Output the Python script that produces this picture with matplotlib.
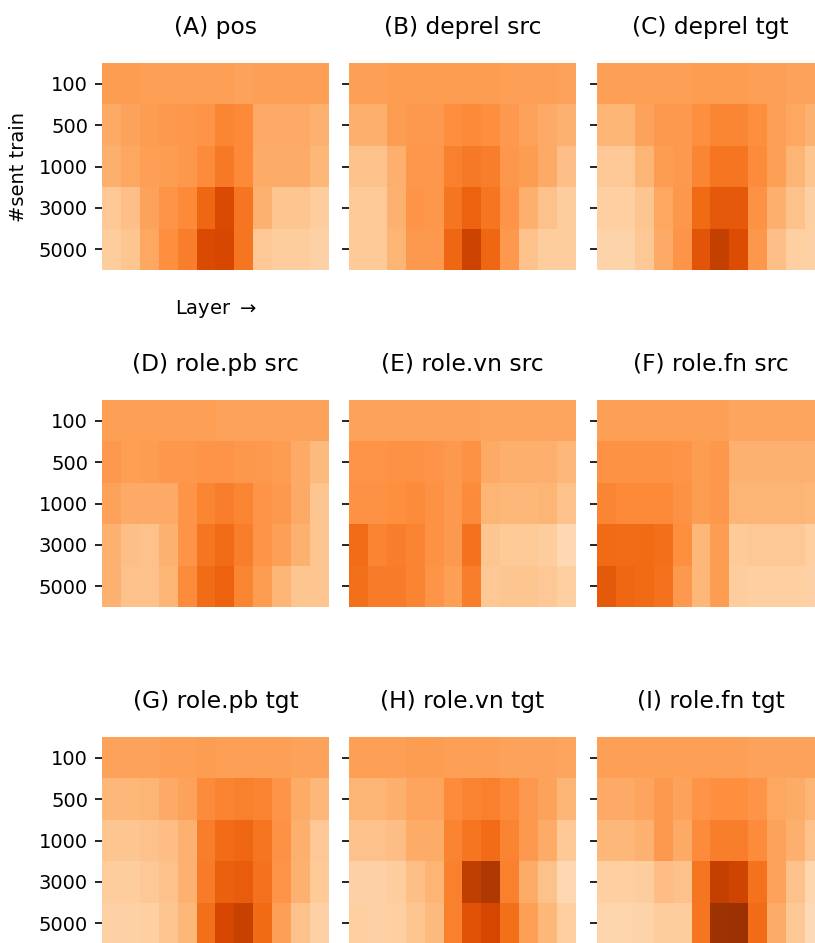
"""Probing accuracy heatmaps: layer vs. number of training sentences."""

import numpy as np
import matplotlib

matplotlib.use("Agg")
import matplotlib.pyplot as plt


TRAIN_SIZES = [100, 500, 1000, 3000, 5000]

# colour values per panel (rows: #sent train, columns: layer 1..12)
POS = [
    [0.44, 0.44, 0.43, 0.43, 0.43, 0.43, 0.43, 0.42, 0.43, 0.43, 0.43, 0.43],
    [0.39, 0.42, 0.44, 0.45, 0.46, 0.47, 0.52, 0.51, 0.39, 0.39, 0.39, 0.36],
    [0.37, 0.40, 0.43, 0.44, 0.46, 0.50, 0.57, 0.51, 0.38, 0.38, 0.38, 0.34],
    [0.28, 0.31, 0.42, 0.47, 0.51, 0.63, 0.74, 0.58, 0.36, 0.29, 0.29, 0.26],
    [0.26, 0.29, 0.40, 0.49, 0.55, 0.74, 0.75, 0.58, 0.28, 0.26, 0.26, 0.24],
]
DEPREL_SRC = [
    [0.43, 0.43, 0.44, 0.44, 0.44, 0.44, 0.44, 0.44, 0.43, 0.43, 0.43, 0.42],
    [0.37, 0.37, 0.44, 0.45, 0.45, 0.49, 0.51, 0.49, 0.45, 0.42, 0.39, 0.36],
    [0.30, 0.30, 0.37, 0.46, 0.46, 0.54, 0.57, 0.55, 0.46, 0.44, 0.39, 0.31],
    [0.27, 0.27, 0.36, 0.47, 0.46, 0.58, 0.65, 0.58, 0.47, 0.37, 0.30, 0.26],
    [0.27, 0.27, 0.35, 0.45, 0.45, 0.63, 0.78, 0.63, 0.45, 0.30, 0.26, 0.26],
]
DEPREL_TGT = [
    [0.43, 0.43, 0.43, 0.43, 0.43, 0.44, 0.44, 0.44, 0.43, 0.43, 0.42, 0.42],
    [0.35, 0.35, 0.42, 0.45, 0.45, 0.49, 0.52, 0.52, 0.49, 0.43, 0.40, 0.36],
    [0.28, 0.28, 0.35, 0.44, 0.45, 0.52, 0.58, 0.58, 0.50, 0.43, 0.35, 0.29],
    [0.25, 0.25, 0.29, 0.40, 0.46, 0.62, 0.68, 0.68, 0.48, 0.37, 0.30, 0.25],
    [0.23, 0.23, 0.28, 0.39, 0.47, 0.70, 0.80, 0.73, 0.46, 0.31, 0.25, 0.24],
]
ROLE_PB_SRC = [
    [0.43, 0.43, 0.43, 0.43, 0.43, 0.43, 0.42, 0.42, 0.42, 0.42, 0.42, 0.42],
    [0.45, 0.43, 0.44, 0.46, 0.46, 0.47, 0.47, 0.46, 0.45, 0.44, 0.39, 0.33],
    [0.42, 0.39, 0.39, 0.39, 0.47, 0.52, 0.55, 0.52, 0.47, 0.45, 0.39, 0.29],
    [0.36, 0.31, 0.30, 0.36, 0.47, 0.58, 0.61, 0.55, 0.47, 0.43, 0.36, 0.29],
    [0.36, 0.30, 0.30, 0.35, 0.50, 0.61, 0.65, 0.52, 0.44, 0.35, 0.29, 0.29],
]
ROLE_VN_SRC = [
    [0.42, 0.42, 0.42, 0.42, 0.42, 0.42, 0.42, 0.41, 0.41, 0.41, 0.41, 0.41],
    [0.47, 0.47, 0.48, 0.48, 0.47, 0.45, 0.48, 0.39, 0.37, 0.37, 0.37, 0.34],
    [0.48, 0.48, 0.49, 0.50, 0.48, 0.45, 0.50, 0.35, 0.34, 0.34, 0.35, 0.30],
    [0.61, 0.53, 0.55, 0.53, 0.48, 0.45, 0.59, 0.29, 0.27, 0.27, 0.26, 0.20],
    [0.60, 0.56, 0.56, 0.53, 0.47, 0.43, 0.55, 0.28, 0.29, 0.29, 0.28, 0.25],
]
ROLE_FN_SRC = [
    [0.43, 0.43, 0.43, 0.43, 0.43, 0.43, 0.43, 0.41, 0.41, 0.41, 0.41, 0.41],
    [0.48, 0.48, 0.48, 0.48, 0.47, 0.44, 0.46, 0.36, 0.36, 0.36, 0.36, 0.36],
    [0.52, 0.51, 0.51, 0.51, 0.48, 0.44, 0.46, 0.35, 0.35, 0.35, 0.35, 0.34],
    [0.62, 0.61, 0.62, 0.60, 0.49, 0.34, 0.44, 0.27, 0.28, 0.28, 0.28, 0.25],
    [0.68, 0.63, 0.62, 0.59, 0.45, 0.34, 0.44, 0.26, 0.25, 0.25, 0.25, 0.24],
]
ROLE_PB_TGT = [
    [0.42, 0.42, 0.42, 0.43, 0.43, 0.44, 0.43, 0.43, 0.43, 0.43, 0.42, 0.42],
    [0.34, 0.34, 0.35, 0.39, 0.42, 0.50, 0.53, 0.54, 0.53, 0.47, 0.38, 0.34],
    [0.29, 0.29, 0.30, 0.32, 0.36, 0.55, 0.61, 0.63, 0.58, 0.48, 0.37, 0.28],
    [0.26, 0.26, 0.28, 0.30, 0.36, 0.56, 0.66, 0.67, 0.59, 0.47, 0.36, 0.27],
    [0.24, 0.24, 0.25, 0.29, 0.34, 0.60, 0.76, 0.79, 0.62, 0.43, 0.30, 0.24],
]
ROLE_VN_TGT = [
    [0.43, 0.43, 0.43, 0.44, 0.44, 0.43, 0.43, 0.43, 0.42, 0.42, 0.42, 0.41],
    [0.35, 0.35, 0.37, 0.41, 0.41, 0.50, 0.53, 0.54, 0.51, 0.45, 0.42, 0.35],
    [0.30, 0.30, 0.32, 0.38, 0.38, 0.53, 0.58, 0.61, 0.53, 0.45, 0.38, 0.28],
    [0.24, 0.24, 0.26, 0.31, 0.35, 0.54, 0.81, 0.85, 0.54, 0.38, 0.30, 0.20],
    [0.25, 0.24, 0.25, 0.29, 0.33, 0.54, 0.71, 0.76, 0.60, 0.43, 0.34, 0.25],
]
ROLE_FN_TGT = [
    [0.43, 0.43, 0.43, 0.43, 0.43, 0.43, 0.43, 0.43, 0.42, 0.42, 0.42, 0.42],
    [0.39, 0.39, 0.41, 0.45, 0.42, 0.47, 0.49, 0.49, 0.47, 0.40, 0.38, 0.35],
    [0.34, 0.34, 0.36, 0.45, 0.39, 0.50, 0.55, 0.55, 0.50, 0.42, 0.37, 0.30],
    [0.25, 0.25, 0.26, 0.32, 0.30, 0.58, 0.80, 0.77, 0.59, 0.42, 0.30, 0.21],
    [0.22, 0.22, 0.23, 0.26, 0.26, 0.58, 0.90, 0.91, 0.61, 0.38, 0.28, 0.19],
]

PANELS = [
    ("(A) pos", POS),
    ("(B) deprel src", DEPREL_SRC),
    ("(C) deprel tgt", DEPREL_TGT),
    ("(D) role.pb src", ROLE_PB_SRC),
    ("(E) role.vn src", ROLE_VN_SRC),
    ("(F) role.fn src", ROLE_FN_SRC),
    ("(G) role.pb tgt", ROLE_PB_TGT),
    ("(H) role.vn tgt", ROLE_VN_TGT),
    ("(I) role.fn tgt", ROLE_FN_TGT),
]

FIG_W, FIG_H = 815, 943
# axes placement in pixels (the right column runs off the canvas, as in the source)
COL_LEFT = [102, 349, 597]
ROW_TOP = [63, 400, 737]
AX_W, AX_H = 227, 207

plt.rcParams["font.family"] = ["DejaVu Sans"]
plt.rcParams["font.size"] = 14


def add_panel(fig, row, col, title, values):
    """Draws one heatmap panel at the given grid slot."""
    left = COL_LEFT[col] / FIG_W
    bottom = 1 - (ROW_TOP[row] + AX_H) / FIG_H
    ax = fig.add_axes([left, bottom, AX_W / FIG_W, AX_H / FIG_H])

    data = np.array(values)
    ax.imshow(
        data,
        cmap="Oranges",
        vmin=0,
        vmax=1,
        aspect="auto",
        interpolation="nearest",
    )
    ax.set_title(title, fontsize=16.8, pad=21)

    for spine in ax.spines.values():
        spine.set_visible(False)
    ax.set_xticks([])
    ax.set_yticks(range(len(TRAIN_SIZES)))
    ax.tick_params(axis="y", length=5, width=1.2, pad=5)
    if col == 0:
        ax.set_yticklabels([str(s) for s in TRAIN_SIZES])
    else:
        ax.set_yticklabels([])
    return ax


fig = plt.figure(figsize=(FIG_W / 100, FIG_H / 100), dpi=100)

for i, (title, values) in enumerate(PANELS):
    ax = add_panel(fig, i // 3, i % 3, title, values)
    if i == 0:
        ax.set_ylabel("#sent train", labelpad=8)
        ax.set_xlabel("Layer $\\rightarrow$", labelpad=20)

fig.savefig("out.png", dpi=100)
